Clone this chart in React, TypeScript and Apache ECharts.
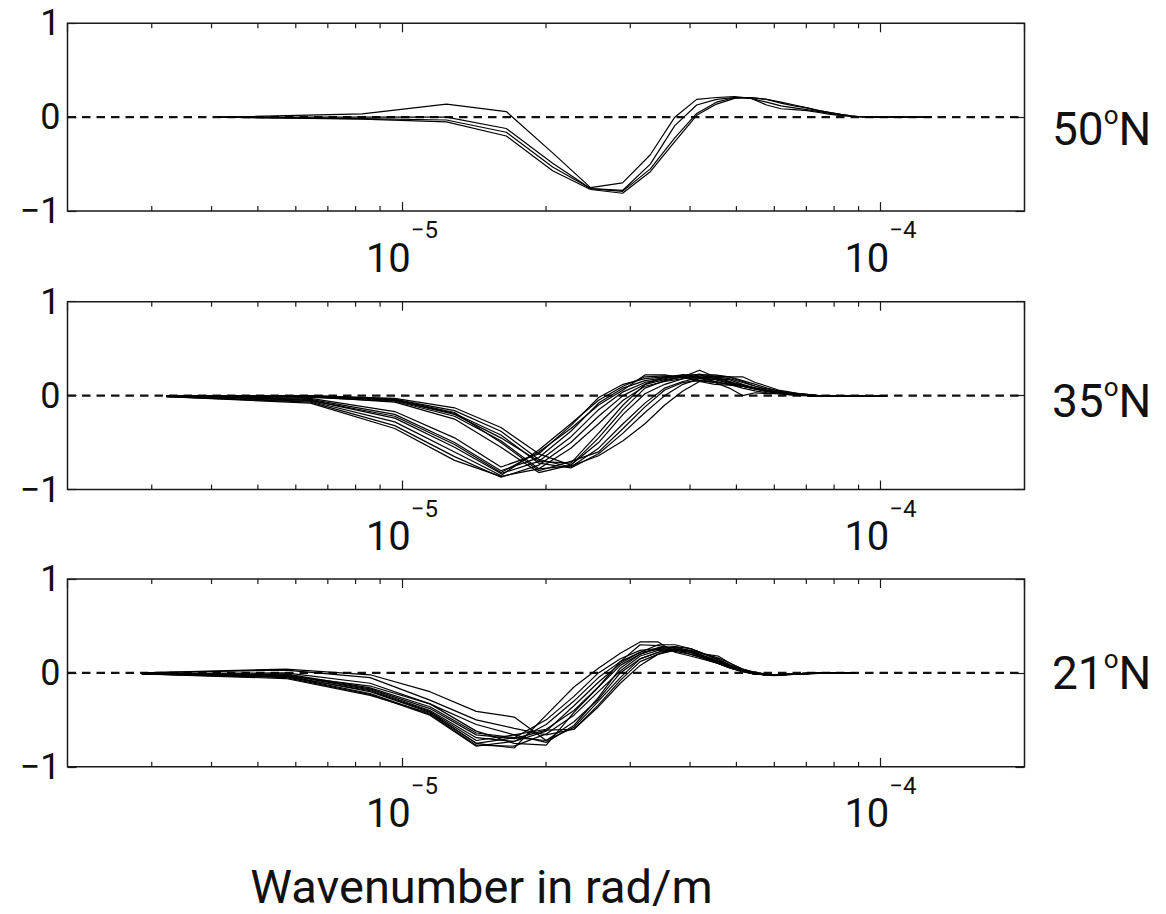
import React, { useEffect, useRef } from "react";
import * as echarts from "echarts";

// Wavenumbers (units of 1e-6 rad/m) sampled in each latitude band
const wavenumber50N = [4.13, 8.26, 12.39, 16.52, 20.65, 24.78, 28.91, 33.04, 37.17, 41.3, 45.43, 49.56, 53.69, 57.82, 61.95, 66.08, 70.21, 74.34, 78.47, 82.6, 86.73, 90.86, 94.99, 99.12, 103.25, 107.38, 111.51, 115.64, 119.77, 123.9, 128.03];
const wavenumber35N = [3.22, 6.44, 9.66, 12.88, 16.1, 19.32, 22.54, 25.76, 28.98, 32.2, 35.42, 38.64, 41.86, 45.08, 48.3, 51.52, 54.74, 57.96, 61.18, 64.4, 67.62, 70.84, 74.06, 77.28, 80.5, 83.72, 86.94, 90.16, 93.38, 96.6, 99.82, 103.04];
const wavenumber21N = [2.86, 5.72, 8.58, 11.44, 14.3, 17.16, 20.02, 22.88, 25.74, 28.6, 31.46, 34.32, 37.18, 40.04, 42.9, 45.76, 48.62, 51.48, 54.34, 57.2, 60.06, 62.92, 65.78, 68.64, 71.5, 74.36, 77.22, 80.08, 82.94, 85.8, 88.66];

const curves50N = [
  [0, 0.035, 0.14, 0.06, -0.38, -0.75, -0.7, -0.4, 0.0, 0.19, 0.21, 0.22, 0.2, 0.13, 0.09, 0.08, 0.07, 0.05, 0.03, 0.02, 0.01, 0.005, 0, 0, 0, 0, 0, 0, 0, 0, 0],
  [0, 0.0, 0.0, -0.12, -0.49, -0.76, -0.78, -0.5, -0.09, 0.13, 0.19, 0.21, 0.2, 0.16, 0.12, 0.1, 0.08, 0.06, 0.04, 0.02, 0.01, 0.005, 0, 0, 0, 0, 0, 0, 0, 0, 0],
  [0, -0.015, -0.03, -0.16, -0.53, -0.76, -0.79, -0.55, -0.22, 0.04, 0.16, 0.21, 0.21, 0.19, 0.15, 0.12, 0.1, 0.07, 0.05, 0.03, 0.015, 0.005, 0, 0, 0, 0, 0, 0, 0, 0, 0],
  [0, -0.02, -0.05, -0.2, -0.57, -0.77, -0.81, -0.58, -0.26, 0.02, 0.14, 0.2, 0.21, 0.19, 0.16, 0.13, 0.1, 0.07, 0.05, 0.03, 0.015, 0.005, 0, 0, 0, 0, 0, 0, 0, 0, 0],
];

const curves35N = [
  [0, -0.03, -0.17, -0.45, -0.76, -0.62, -0.32, -0.02, 0.12, 0.18, 0.2, 0.2, 0.18, 0.15, 0.12, 0.1, 0.07, 0.05, 0.03, 0.02, 0.01, 0.005, 0, 0, 0, 0, 0, 0, 0, 0, 0, 0],
  [0, -0.04, -0.2, -0.5, -0.8, -0.66, -0.38, -0.08, 0.08, 0.16, 0.19, 0.21, 0.2, 0.17, 0.13, 0.1, 0.07, 0.05, 0.03, 0.02, 0.01, 0.005, 0, 0, 0, 0, 0, 0, 0, 0, 0, 0],
  [0, -0.05, -0.24, -0.55, -0.83, -0.7, -0.44, -0.15, 0.04, 0.14, 0.18, 0.22, 0.22, 0.18, 0.14, 0.11, 0.08, 0.05, 0.03, 0.02, 0.01, 0, 0, 0, 0, 0, 0, 0, 0, 0, 0, 0],
  [-0.01, -0.06, -0.28, -0.6, -0.85, -0.58, -0.3, -0.05, 0.1, 0.2, 0.21, 0.2, 0.16, 0.14, 0.12, 0.1, 0.07, 0.04, 0.03, 0.02, 0.01, 0, 0, 0, 0, 0, 0, 0, 0, 0, 0, 0],
  [-0.01, -0.07, -0.32, -0.65, -0.87, -0.74, -0.5, -0.22, 0.0, 0.12, 0.17, 0.2, 0.23, 0.2, 0.15, 0.11, 0.08, 0.05, 0.03, 0.02, 0.01, 0, 0, 0, 0, 0, 0, 0, 0, 0, 0, 0],
  [-0.01, -0.08, -0.35, -0.69, -0.86, -0.78, -0.56, -0.3, -0.05, 0.1, 0.15, 0.18, 0.22, 0.22, 0.2, 0.15, 0.1, 0.06, 0.04, 0.02, 0.01, 0, 0, 0, 0, 0, 0, 0, 0, 0, 0, 0],
  [0, -0.05, -0.22, -0.52, -0.82, -0.6, -0.35, -0.1, 0.06, 0.22, 0.22, 0.19, 0.15, 0.12, 0.11, 0.1, 0.08, 0.05, 0.03, 0.02, 0.01, 0, 0, 0, 0, 0, 0, 0, 0, 0, 0, 0],
  [0, 0, -0.03, -0.13, -0.34, -0.62, -0.74, -0.5, -0.2, 0.02, 0.12, 0.18, 0.2, 0.2, 0.18, 0.14, 0.1, 0.07, 0.05, 0.03, 0.02, 0.01, 0, 0, 0, 0, 0, 0, 0, 0, 0, 0],
  [0, -0.01, -0.04, -0.16, -0.38, -0.68, -0.76, -0.56, -0.3, -0.08, 0.08, 0.15, 0.19, 0.21, 0.2, 0.16, 0.12, 0.08, 0.05, 0.03, 0.02, 0.01, 0, 0, 0, 0, 0, 0, 0, 0, 0, 0],
  [0, -0.01, -0.05, -0.19, -0.42, -0.72, -0.77, -0.62, -0.4, -0.18, 0.0, 0.12, 0.18, 0.2, 0.2, 0.2, 0.14, 0.1, 0.06, 0.04, 0.02, 0.01, 0, 0, 0, 0, 0, 0, 0, 0, 0, 0],
  [0, -0.02, -0.06, -0.22, -0.48, -0.78, -0.75, -0.64, -0.48, -0.3, -0.1, 0.05, 0.15, 0.18, 0.17, 0.12, 0.08, 0.05, 0.03, 0.02, 0.01, 0, 0, 0, 0, 0, 0, 0, 0, 0, 0, 0],
  [0, -0.01, -0.07, -0.25, -0.55, -0.82, -0.74, -0.45, -0.15, 0.08, 0.16, 0.2, 0.27, 0.2, 0.15, 0.1, 0.07, 0.05, 0.03, 0.02, 0.01, 0, 0, 0, 0, 0, 0, 0, 0, 0, 0, 0],
  [0, -0.01, -0.05, -0.2, -0.45, -0.7, -0.72, -0.4, -0.1, 0.12, 0.2, 0.22, 0.2, 0.15, 0.12, 0.08, 0.05, 0.03, 0.02, 0.01, 0, 0, 0, 0, 0, 0, 0, 0, 0, 0, 0, 0],
  [0, 0, -0.04, -0.18, -0.5, -0.8, -0.7, -0.6, -0.35, -0.12, 0.06, 0.14, 0.16, 0.14, 0.08, 0.0, 0.03, 0.02, 0.02, 0.01, 0.005, 0, 0, 0, 0, 0, 0, 0, 0, 0, 0, 0],
];

const curves21N = [
  [0, 0.04, -0.02, -0.2, -0.41, -0.47, -0.72, -0.58, -0.3, -0.05, 0.15, 0.22, 0.24, 0.22, 0.17, 0.12, 0.06, 0.02, -0.01, -0.02, -0.02, -0.02, -0.015, -0.01, -0.01, -0.005, 0, 0, 0, 0, 0],
  [0, 0.03, -0.05, -0.29, -0.5, -0.59, -0.66, -0.6, -0.36, -0.11, 0.08, 0.2, 0.25, 0.24, 0.2, 0.15, 0.08, 0.03, 0.0, -0.02, -0.02, -0.02, -0.01, -0.01, -0.005, 0, 0, 0, 0, 0, 0],
  [-0.005, 0.0, -0.11, -0.33, -0.55, -0.66, -0.6, -0.4, -0.15, 0.08, 0.2, 0.26, 0.27, 0.22, 0.16, 0.11, 0.06, 0.02, -0.01, -0.02, -0.02, -0.015, -0.01, -0.01, -0.005, 0, 0, 0, 0, 0, 0],
  [-0.01, -0.01, -0.16, -0.36, -0.64, -0.69, -0.5, -0.25, 0.0, 0.15, 0.24, 0.26, 0.25, 0.2, 0.15, 0.1, 0.05, 0.01, -0.01, -0.02, -0.02, -0.01, -0.01, -0.005, 0, 0, 0, 0, 0, 0, 0],
  [-0.01, -0.02, -0.18, -0.4, -0.69, -0.73, -0.55, -0.3, -0.05, 0.12, 0.22, 0.3, 0.3, 0.26, 0.2, 0.14, 0.08, 0.03, 0.0, -0.02, -0.02, -0.02, -0.01, -0.01, -0.005, 0, 0, 0, 0, 0, 0],
  [-0.01, -0.03, -0.2, -0.42, -0.75, -0.8, -0.45, -0.15, 0.05, 0.21, 0.33, 0.33, 0.22, 0.18, 0.14, 0.1, 0.05, 0.02, -0.01, -0.02, -0.02, -0.01, -0.01, -0.005, 0, 0, 0, 0, 0, 0, 0],
  [-0.01, -0.04, -0.22, -0.44, -0.77, -0.78, -0.65, -0.45, -0.2, 0.02, 0.18, 0.24, 0.25, 0.24, 0.18, 0.13, 0.07, 0.03, 0.0, -0.02, -0.02, -0.02, -0.01, -0.01, -0.005, 0, 0, 0, 0, 0, 0],
  [-0.01, -0.05, -0.23, -0.45, -0.78, -0.73, -0.62, -0.35, -0.1, 0.1, 0.22, 0.25, 0.23, 0.2, 0.16, 0.12, 0.07, 0.03, 0.0, -0.02, -0.02, -0.015, -0.01, -0.01, -0.005, 0, 0, 0, 0, 0, 0],
  [-0.01, -0.06, -0.24, -0.43, -0.75, -0.69, -0.72, -0.52, -0.28, 0.0, 0.15, 0.22, 0.28, 0.26, 0.2, 0.16, 0.1, 0.04, 0.01, -0.01, -0.02, -0.02, -0.01, -0.01, -0.005, 0, 0, 0, 0, 0, 0],
  [-0.005, -0.03, -0.14, -0.33, -0.62, -0.75, -0.77, -0.42, -0.15, 0.12, 0.3, 0.29, 0.26, 0.22, 0.16, 0.1, 0.05, 0.02, -0.01, -0.02, -0.02, -0.02, -0.01, -0.005, 0, 0, 0, 0, 0, 0, 0],
  [-0.01, -0.02, -0.17, -0.38, -0.66, -0.7, -0.61, -0.6, -0.34, -0.08, 0.12, 0.2, 0.24, 0.26, 0.2, 0.18, 0.1, 0.04, 0.01, -0.01, -0.02, -0.02, -0.01, -0.01, -0.005, 0, 0, 0, 0, 0, 0],
  [-0.01, -0.04, -0.19, -0.41, -0.72, -0.66, -0.74, -0.56, -0.26, 0.05, 0.2, 0.27, 0.28, 0.23, 0.18, 0.13, 0.07, 0.03, 0.0, -0.02, -0.03, -0.02, -0.015, -0.01, -0.005, 0, 0, 0, 0, 0, 0],
];

const latitudeLabels = ["50", "35", "21"];
const minorTicks = [3e-6, 4e-6, 5e-6, 6e-6, 7e-6, 8e-6, 9e-6, 2e-5, 3e-5, 4e-5, 5e-5, 6e-5, 7e-5, 8e-5, 9e-5];
const xRange = [2e-6, 2e-4];
const yRange = [-1, 1];
const referenceLevel = [0, 0];
const axisTitle = "Wavenumber in rad/m";

const FONT = "Roboto, 'Open Sans', sans-serif";
const INK = "#111";

const panels = [
  { k: wavenumber50N, curves: curves50N, top: 23.3, labelY: 126.7 },
  { k: wavenumber35N, curves: curves35N, top: 301.7, labelY: 398.8 },
  { k: wavenumber21N, curves: curves21N, top: 579, labelY: 671 },
];

function buildOption() {
  const grid: any[] = [];
  const xAxis: any[] = [];
  const yAxis: any[] = [];
  const series: any[] = [];
  const graphic: any[] = [];

  const xFormatter = (v: number) => {
    const lg = Math.log10(v);
    const e = Math.round(lg);
    if (Math.abs(lg - e) > 0.01) return "";
    return "{b|10}{s|\u2212" + Math.abs(e) + "}";
  };

  panels.forEach((p, i) => {
    grid.push({
      left: 67.5,
      top: p.top,
      width: 957,
      height: 187.8,
      show: true,
      borderColor: "#1a1a1a",
      borderWidth: 1.5,
      backgroundColor: "transparent",
    });
    const baseX = {
      type: "log",
      logBase: 10,
      gridIndex: i,
      min: xRange[0],
      max: xRange[1],
      axisLine: { show: false, onZero: false },
      splitLine: { show: false },
      axisTick: { show: true, inside: true, length: 9, lineStyle: { color: "#1a1a1a", width: 1.2 } },
    };
    xAxis.push({
      ...baseX,
      position: "bottom",
      axisLabel: {
        show: true,
        margin: 7,
        showMinLabel: false,
        showMaxLabel: false,
        formatter: xFormatter,
        color: INK,
        rich: {
          b: { fontSize: 40, fontFamily: FONT, color: INK, lineHeight: 60, verticalAlign: "bottom" },
          s: { fontSize: 24, fontFamily: FONT, color: INK, lineHeight: 32, verticalAlign: "top" },
        },
      },
    });
    xAxis.push({ ...baseX, position: "top", axisLabel: { show: false } });

    const baseY = {
      type: "value",
      gridIndex: i,
      min: yRange[0],
      max: yRange[1],
      interval: 1,
      axisLine: { show: false, onZero: false },
      splitLine: { show: false },
      axisTick: { show: true, inside: true, length: 9, lineStyle: { color: "#1a1a1a", width: 1.2 } },
    };
    yAxis.push({
      ...baseY,
      position: "left",
      axisLabel: {
        margin: 7,
        fontSize: 36,
        fontFamily: FONT,
        color: INK,
        formatter: (v: number) => (v < 0 ? "\u2212" + Math.abs(v) : String(v)),
      },
    });
    yAxis.push({ ...baseY, position: "right", axisLabel: { show: false } });

    // zero reference (dashed)
    series.push({
      type: "line",
      xAxisIndex: 2 * i,
      yAxisIndex: 2 * i,
      data: [
        [xRange[0], referenceLevel[0]],
        [xRange[1], referenceLevel[1]],
      ],
      symbol: "none",
      silent: true,
      z: 1,
      lineStyle: { color: "#111", width: 2.3, type: [8.5, 6] },
    });

    p.curves.forEach((c) => {
      series.push({
        type: "line",
        xAxisIndex: 2 * i,
        yAxisIndex: 2 * i,
        data: p.k.map((k, j) => [k * 1e-6, c[j]]),
        symbol: "none",
        silent: true,
        z: 2,
        lineStyle: { color: "#000", width: 1.2 },
      });
    });

    // minor log ticks on bottom and top edges
    series.push({
      type: "custom",
      xAxisIndex: 2 * i,
      yAxisIndex: 2 * i,
      silent: true,
      z: 3,
      data: minorTicks.map((t) => [t, 0]),
      renderItem: (params: any, api: any) => {
        const x = api.value(0);
        const pb = api.coord([x, yRange[0]]);
        const pt = api.coord([x, yRange[1]]);
        const st = { stroke: "#1a1a1a", lineWidth: 1.2 };
        return {
          type: "group",
          children: [
            { type: "line", shape: { x1: pb[0], y1: pb[1], x2: pb[0], y2: pb[1] - 5 }, style: st },
            { type: "line", shape: { x1: pt[0], y1: pt[1], x2: pt[0], y2: pt[1] + 5 }, style: st },
          ],
        };
      },
    });

    graphic.push({
      type: "text",
      x: 1052,
      y: p.labelY,
      style: {
        text: "{a|" + latitudeLabels[i] + "}{o|o}{a|N}",
        align: "left",
        verticalAlign: "middle",
        fill: INK,
        rich: {
          a: { fontSize: 46, fontFamily: FONT, fill: INK, lineHeight: 50, verticalAlign: "bottom" },
          o: { fontSize: 26, fontFamily: FONT, fill: INK, lineHeight: 36, verticalAlign: "top" },
        },
      },
    });
  });

  graphic.push({
    type: "text",
    x: 481.5,
    y: 886,
    style: {
      text: axisTitle,
      align: "center",
      verticalAlign: "middle",
      fontSize: 47,
      fontFamily: FONT,
      fill: INK,
    },
  });

  return {
    animation: false,
    backgroundColor: "#fff",
    grid,
    xAxis,
    yAxis,
    series,
    graphic,
  };
}

export default function App() {
  const ref = useRef<HTMLDivElement>(null);
  useEffect(() => {
    if (!ref.current) return;
    const chart = echarts.init(ref.current, undefined, { renderer: "svg" });
    chart.setOption(buildOption() as any);
    return () => chart.dispose();
  }, []);
  return (
    <div
      ref={ref}
      style={{ position: "fixed", left: 0, top: 0, width: 1166, height: 914, background: "#fff" }}
    />
  );
}
